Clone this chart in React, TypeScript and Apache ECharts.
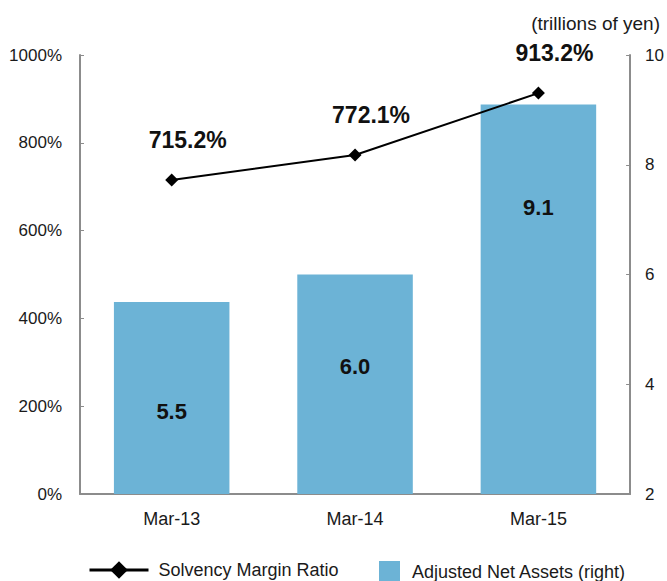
import React, { useEffect, useRef } from "react";
import * as echarts from "echarts";

const categories = ["Mar-13", "Mar-14", "Mar-15"];
const solvencyMarginRatio = [715.2, 772.1, 913.2];
const adjustedNetAssets = [5.5, 6.0, 9.1];
const leftTicks = { min: 0, max: 1000, interval: 200 };
const rightTicks = { min: 2, max: 10, interval: 2 };
const barLabelOffsets = [14, -18, -92];

const FONT = "Liberation Sans, Arial, sans-serif";
const AXIS = "#8c8c8c";
const TEXT = "#1a1a1a";

export default function App() {
  const ref = useRef<HTMLDivElement>(null);
  useEffect(() => {
    document.body.style.margin = "0";
    document.body.style.overflow = "hidden";
    document.documentElement.style.overflow = "hidden";
    const chart = echarts.init(ref.current!, null, { renderer: "svg", width: 667, height: 581 });
    chart.setOption({
      animation: false,
      textStyle: { fontFamily: FONT },
      title: {
        text: "(trillions of yen)",
        right: 2,
        top: 9,
        textStyle: { fontSize: 19, fontWeight: "normal", color: TEXT, fontFamily: FONT },
      },
      legend: [
        {
          data: [{ name: "Solvency Margin Ratio" }],
          left: 83,
          top: 556,
          itemWidth: 59,
          itemHeight: 22,
          lineStyle: { width: 3 },
          textStyle: { fontSize: 18, color: TEXT, fontFamily: FONT, padding: [0, 0, 0, 5] },
        },
        {
          data: [{ name: "Adjusted Net Assets (right)", icon: "rect" }],
          left: 374,
          top: 556,
          itemWidth: 21,
          itemHeight: 21,
          textStyle: { fontSize: 18, color: TEXT, fontFamily: FONT, padding: [0, 0, 0, 7] },
        },
      ],
      grid: { left: 80, right: 32, top: 55, bottom: 87 },
      xAxis: {
        type: "category",
        data: categories,
        axisLine: { lineStyle: { color: AXIS, width: 2 } },
        axisTick: { inside: true, length: 5, lineStyle: { color: AXIS } },
        axisLabel: { fontSize: 18, color: TEXT, margin: 16, fontFamily: FONT },
      },
      yAxis: [
        {
          type: "value",
          min: leftTicks.min,
          max: leftTicks.max,
          interval: leftTicks.interval,
          axisLine: { show: true, lineStyle: { color: AXIS, width: 2 } },
          axisTick: { show: true, inside: true, length: 4, lineStyle: { color: AXIS } },
          splitLine: { show: false },
          axisLabel: {
            formatter: (v: number) => String(v) + "%",
            fontSize: 17,
            color: TEXT,
            margin: 18,
            fontFamily: FONT,
          },
        },
        {
          type: "value",
          min: rightTicks.min,
          max: rightTicks.max,
          interval: rightTicks.interval,
          axisLine: { show: true, lineStyle: { color: AXIS, width: 2 } },
          axisTick: { show: true, inside: true, length: 4, lineStyle: { color: AXIS } },
          splitLine: { show: false },
          axisLabel: { fontSize: 17, color: TEXT, margin: 15, fontFamily: FONT },
        },
      ],
      series: [
        {
          name: "Adjusted Net Assets (right)",
          type: "bar",
          yAxisIndex: 1,
          barWidth: "63%",
          itemStyle: { color: "#6cb3d6" },
          data: adjustedNetAssets.map((v, i) => ({
            value: v,
            label: {
              show: true,
              position: "inside",
              offset: [0, barLabelOffsets[i]],
              formatter: (p: any) => Number(p.value).toFixed(1),
              fontSize: 22,
              fontWeight: "bold",
              color: "#111",
              fontFamily: FONT,
            },
          })),
        },
        {
          name: "Solvency Margin Ratio",
          type: "line",
          yAxisIndex: 0,
          data: solvencyMarginRatio,
          symbol: "diamond",
          symbolSize: 13,
          lineStyle: { color: "#000", width: 2 },
          itemStyle: { color: "#000" },
          label: {
            show: true,
            position: "top",
            distance: 22,
            offset: [16, 0],
            formatter: (p: any) => Number(p.value).toFixed(1) + "%",
            fontSize: 23,
            fontWeight: "bold",
            color: "#111",
            fontFamily: FONT,
          },
        },
      ],
    });
    return () => chart.dispose();
  }, []);
  return <div ref={ref} style={{ width: 667, height: 581, overflow: "hidden" }} />;
}
